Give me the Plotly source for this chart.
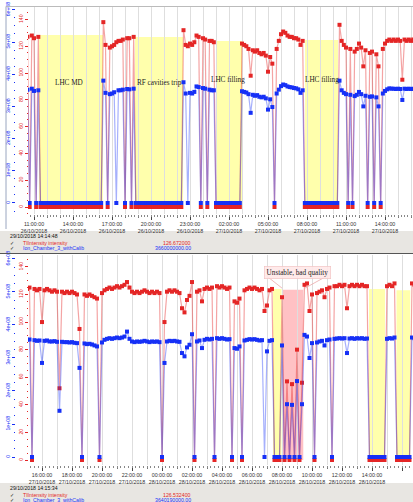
import pandas as pd
import plotly.graph_objects as go

W, H = 413, 502

# ---------------- data: top panel (26/10 10:30 -> 27/10 16:10, every 10 min)
top_times = pd.date_range("2018-10-26 10:30", "2018-10-27 16:10", freq="10min")
top_ti = [
    127, 0, 128,
    126, 0, 127, 0, 0, 0,          # 11h
    0, 0, 0, 0, 0, 0,              # 12h
    0, 0, 0, 0, 0, 0,              # 13h
    0, 0, 0, 0, 0, 0,              # 14h
    0, 0, 0, 0, 0, 0,              # 15h
    0, 0, 138, 121, 0, 119,        # 16h
    120, 121, 123, 124, 124, 125,  # 17h
    0, 126, 126, 0, 127, 0,        # 18h
    0, 0, 0, 0, 0, 0,              # 19h
    0, 0, 0, 0, 0, 0,              # 20h
    0, 0, 0, 0, 0, 0,              # 21h
    0, 0, 0, 132, 121, 120,        # 22h
    122, 121, 123, 128, 127, 0,    # 23h
    126, 125, 0, 124, 124, 123,    # 00h
    0, 0, 0, 0, 0, 0,              # 01h
    0, 0, 0, 0, 0, 0,              # 02h
    122, 121, 120, 118, 98, 117,   # 03h
    116, 117, 115, 114, 115, 113,  # 04h
    101, 112, 107, 0, 118, 124,    # 05h
    129, 131, 130, 128, 127, 127,  # 06h
    126, 126, 125, 121, 124, 0,    # 07h
    0, 0, 0, 0, 0, 0,              # 08h
    0, 0, 0, 0, 0, 0,              # 09h
    0, 0, 0, 136, 124, 121,        # 10h
    119, 0, 118, 0, 116, 118,      # 11h
    122, 119, 105, 117, 0, 115,    # 12h
    116, 0, 114, 105, 0, 118,      # 13h
    122, 124, 125, 124, 125, 124,  # 14h
    125, 124, 95, 125, 124, 125,   # 15h
    124, 125,                      # 16h
]
top_ion_1e8 = [
    3.52, 0, 3.55,
    3.48, 0, 3.50, 0, 0, 0,
    0, 0, 0, 0, 0, 0,
    0, 0, 0, 0, 0, 0,
    0, 0, 0, 0, 0, 0,
    0, 0, 0, 0, 0, 0,
    0, 0, 3.80, 3.42, 0, 3.38,
    3.40, 3.44, 0, 3.50, 3.50, 3.52,
    0, 3.54, 3.53, 0, 3.55, 0,
    0, 0, 0, 0, 0, 0,
    0, 0, 0, 0, 0, 0,
    0, 0, 0, 0, 0, 0,
    0, 0, 0, 3.75, 3.40, 0,
    3.42, 3.40, 3.45, 3.62, 3.60, 0,
    3.57, 3.55, 0, 3.52, 3.50, 3.50,
    0, 0, 0, 0, 0, 0,
    0, 0, 0, 0, 0, 0,
    3.47, 3.45, 3.43, 3.38, 2.80, 3.36,
    3.33, 3.35, 3.30, 3.28, 3.30, 3.25,
    2.90, 3.22, 2.98, 0, 3.40, 3.52,
    3.63, 3.68, 3.66, 3.62, 3.60, 3.59,
    3.57, 3.56, 3.53, 3.42, 3.50, 0,
    0, 0, 0, 0, 0, 0,
    0, 0, 0, 0, 0, 0,
    0, 0, 0, 3.80, 3.50, 3.42,
    3.38, 0, 3.36, 0, 3.32, 3.36,
    3.45, 3.38, 3.00, 3.33, 0, 3.30,
    3.31, 0, 3.28, 3.00, 0, 3.40,
    3.48, 3.53, 3.56, 3.55, 3.55, 3.54,
    3.55, 3.54, 3.20, 3.55, 3.54, 3.55,
    3.54, 3.55,
]

# ---------------- data: bottom panel (27/10 15:00 -> 28/10 16:50, every 10 min)
bot_times = pd.date_range("2018-10-27 15:00", "2018-10-28 16:50", freq="10min")
bot_ti = [
    124, 125, 0, 124, 123, 124,    # 15h
    100, 123, 124, 123, 122, 123,  # 16h
    122, 52, 122, 121, 122, 121,   # 17h
    122, 121, 120, 95, 0, 120,     # 18h
    119, 120, 119, 118, 117, 0,    # 19h
    121, 123, 124, 125, 124, 125,  # 20h
    126, 125, 126, 127, 129, 125,  # 21h
    122, 121, 122, 121, 122, 123,  # 22h
    122, 121, 122, 121, 122, 121,  # 23h
    0, 100, 122, 123, 122, 123,    # 00h
    122, 121, 110, 107, 116, 119,  # 01h
    129, 0, 122, 123, 115, 124,    # 02h
    125, 124, 125, 0, 126, 125,    # 03h
    126, 125, 124, 125, 0, 115,    # 04h
    114, 117, 0, 123, 124, 125,    # 05h
    124, 125, 124, 123, 124, 108,  # 06h
    112, 123, 124, 0, 0, 0,        # 07h
    118, 0, 57, 0, 55, 0,          # 08h
    80, 0, 56, 127, 128, 108,      # 09h
    120, 0, 121, 122, 123, 118,    # 10h
    124, 125, 0, 126, 126, 127,    # 11h
    126, 127, 110, 126, 127, 126,  # 12h
    127, 126, 127, 126, 126, 0,    # 13h
    0, 0, 0, 0, 0, 0,              # 14h
    126, 127, 126, 128, 0, 0,      # 15h
    0, 0, 0, 0, 128, 127,          # 16h
]
bot_ion_1e8 = [
    3.55, 3.56, 0, 3.54, 3.52, 3.53,
    2.85, 3.52, 3.53, 3.50, 3.50, 3.51,
    3.49, 1.40, 3.49, 3.48, 3.48, 3.47,
    3.48, 3.46, 3.45, 2.70, 0, 3.44,
    3.42, 3.43, 3.41, 3.38, 3.35, 0,
    3.47, 3.55, 3.58, 3.60, 3.58, 3.60,
    3.62, 3.60, 3.62, 3.65, 3.80, 3.58,
    3.50, 3.48, 3.50, 3.49, 3.50, 3.52,
    3.50, 3.48, 3.50, 3.49, 3.50, 3.48,
    0, 2.85, 3.50, 3.52, 3.51, 3.52,
    3.50, 3.49, 3.15, 3.05, 3.32, 3.40,
    3.72, 0, 3.50, 3.53, 3.30, 3.55,
    3.58, 3.56, 3.58, 0, 3.60, 3.58,
    3.60, 3.58, 3.56, 3.57, 0, 3.30,
    3.28, 3.35, 0, 3.53, 3.55, 3.57,
    3.56, 3.57, 3.55, 3.53, 3.54, 0,
    3.20, 3.52, 3.54, 0, 0, 0,
    3.38, 0, 1.60, 0, 1.58, 0,
    2.30, 0, 1.60, 3.70, 3.65, 3.00,
    3.45, 0, 3.47, 3.50, 3.52, 3.38,
    3.54, 3.56, 0, 3.58, 3.59, 3.60,
    3.59, 3.60, 3.15, 3.59, 3.60, 3.58,
    3.60, 3.59, 3.60, 3.58, 3.59, 0,
    0, 0, 0, 0, 0, 0,
    3.58, 3.60, 3.59, 3.62, 0, 0,
    0, 0, 0, 0, 3.62, 3.60,
]
ION_UNIT = 1e8

# shaded periods: (start, end, top value on TI axis)
top_yellow = [
    ("2018-10-26 11:23", "2018-10-26 16:18", 128.4),
    ("2018-10-26 18:46", "2018-10-26 22:28", 126.9),
    ("2018-10-27 01:00", "2018-10-27 03:00", 123.9),
    ("2018-10-27 07:51", "2018-10-27 10:23", 124.6),
]
top_labels = [
    ("2018-10-26 13:41", 92.5, "LHC MD"),
    ("2018-10-26 20:41", 92.5, "RF cavities trip"),
    ("2018-10-27 01:55", 94.8, "LHC filling"),
    ("2018-10-27 09:09", 94.8, "LHC filling"),
]
bot_yellow = [
    ("2018-10-28 07:24", "2018-10-28 07:58", 124),
    ("2018-10-28 13:48", "2018-10-28 14:52", 124),
    ("2018-10-28 15:38", "2018-10-28 16:33", 123),
]
bot_pink = [("2018-10-28 08:02", "2018-10-28 09:25", 123.5)]
bot_label = ("2018-10-28 09:00", 136.2, "Unstable, bad quality")

ti_ticks = [0, 20, 40, 60, 80, 100, 120, 140]
ion_tickvals = [0, 1e8, 2e8, 3e8, 4e8, 5e8, 6e8]
ion_ticktext = ["0", "1e+08", "2e+08", "3e+08", "4e+08", "5e+08", "6e+08"]

legend_top = ("29/10/2018 14:14:48", "126.672000", "3660000000.00")
legend_bot = ("29/10/2018 14:15:34", "126.532400", "3640190000.00")
series_names = ("TIIntensity intensity", "Ion_Chamber_3_withCalib")

assert len(top_ti) == len(top_times) == len(top_ion_1e8)
assert len(bot_ti) == len(bot_times) == len(bot_ion_1e8)

RED = "rgb(228,38,38)"
RED_L = "rgba(228,38,38,0.42)"
BLUE = "rgb(22,48,246)"
BLUE_L = "rgba(22,48,246,0.38)"
YELLOW = "rgb(255,255,172)"
PINK = "rgba(255,160,165,0.65)"
GRID = "rgba(222,222,222,1)"


def px(x):
    return x / W


def py(y):
    return 1 - y / H


fig = go.Figure()


def add_series(times, ti, ion, xa, ya_ti, ya_ion):
    fig.add_trace(go.Scatter(
        x=times, y=ti, xaxis=xa, yaxis=ya_ti, mode="lines+markers",
        line=dict(color=RED_L, width=1.2),
        marker=dict(color=RED, size=4, symbol="square", line=dict(width=0)),
        showlegend=False, hoverinfo="skip"))
    fig.add_trace(go.Scatter(
        x=times, y=[v * ION_UNIT for v in ion], xaxis=xa, yaxis=ya_ion,
        mode="lines+markers",
        line=dict(color=BLUE_L, width=1.2),
        marker=dict(color=BLUE, size=4, symbol="square", line=dict(width=0)),
        showlegend=False, hoverinfo="skip"))


add_series(top_times, top_ti, top_ion_1e8, "x", "y", "y2")
add_series(bot_times, bot_ti, bot_ion_1e8, "x2", "y3", "y4")
# carriers for the fine-tick overlay axes
fig.add_trace(go.Scatter(x=[], y=[], xaxis="x3", yaxis="y", showlegend=False))
fig.add_trace(go.Scatter(x=[], y=[], xaxis="x4", yaxis="y3", showlegend=False))

shapes = []
for s, e, top in top_yellow:
    shapes.append(dict(type="rect", xref="x", yref="y", x0=s, x1=e, y0=0, y1=top,
                       fillcolor=YELLOW, line=dict(width=0), layer="below"))
for s, e, top in bot_yellow:
    shapes.append(dict(type="rect", xref="x2", yref="y3", x0=s, x1=e, y0=0, y1=top,
                       fillcolor=YELLOW, line=dict(width=0), layer="below"))
for s, e, top in bot_pink:
    shapes.append(dict(type="rect", xref="x2", yref="y3", x0=s, x1=e, y0=0, y1=top,
                       fillcolor=PINK, line=dict(width=0), layer="below"))

# leader lines of the "Unstable" label
shapes.append(dict(type="line", xref="x2", yref="y3", x0="2018-10-28 07:04", y0=132.6,
                   x1="2018-10-28 08:00", y1=124.6, line=dict(color="rgba(235,170,170,1)", width=0.8)))
shapes.append(dict(type="line", xref="x2", yref="y3", x0="2018-10-28 10:52", y0=132.6,
                   x1="2018-10-28 09:32", y1=124.6, line=dict(color="rgba(235,170,170,1)", width=0.8)))

# legend panels / frame lines
shapes.append(dict(type="rect", xref="paper", yref="paper", x0=0, x1=1, y0=py(253), y1=py(231),
                   fillcolor="rgb(232,230,226)", line=dict(width=0), layer="below"))
shapes.append(dict(type="rect", xref="paper", yref="paper", x0=0, x1=1, y0=0, y1=py(483),
                   fillcolor="rgb(232,230,226)", line=dict(width=0), layer="below"))
shapes.append(dict(type="line", xref="paper", yref="paper", x0=0, x1=1, y0=py(253.5), y1=py(253.5),
                   line=dict(color="#555", width=1)))
shapes.append(dict(type="line", xref="paper", yref="paper", x0=px(6), x1=1, y0=py(6.5), y1=py(6.5),
                   line=dict(color="#bbb", width=1)))
shapes.append(dict(type="line", xref="paper", yref="paper", x0=px(6), x1=px(6), y0=py(229), y1=py(6.5),
                   line=dict(color="#9aa6c0", width=1)))

annotations = []
for t, v, txt in top_labels:
    annotations.append(dict(x=t, y=v, xref="x", yref="y", text=txt, showarrow=False,
                            font=dict(family="Liberation Serif", size=7.2, color="#222")))
annotations.append(dict(x=bot_label[0], y=bot_label[1], xref="x2", yref="y3", text=bot_label[2],
                        showarrow=False, bgcolor="rgba(255,232,232,0.9)",
                        bordercolor="rgba(240,190,190,1)", borderwidth=0.6, borderpad=2,
                        font=dict(family="Liberation Serif", size=7.2, color="#222")))


def legend(lg, y_date, y_r1, y_r2):
    f = "Liberation Sans"
    annotations.append(dict(x=px(8), y=py(y_date), xref="paper", yref="paper", text=lg[0],
                            showarrow=False, xanchor="left", yanchor="middle",
                            font=dict(family=f, size=5.2, color="#111")))
    for yy in (y_r1, y_r2):
        annotations.append(dict(x=px(8), y=py(yy), xref="paper", yref="paper", text="✓",
                                showarrow=False, xanchor="left", yanchor="middle",
                                font=dict(family="DejaVu Sans", size=5, color="#111")))
    annotations.append(dict(x=px(21), y=py(y_r1), xref="paper", yref="paper", text=series_names[0],
                            showarrow=False, xanchor="left", yanchor="middle",
                            font=dict(family=f, size=5.2, color=RED)))
    annotations.append(dict(x=px(21), y=py(y_r2), xref="paper", yref="paper", text=series_names[1],
                            showarrow=False, xanchor="left", yanchor="middle",
                            font=dict(family=f, size=5.2, color=BLUE)))
    annotations.append(dict(x=px(193), y=py(y_r1), xref="paper", yref="paper", text=lg[1],
                            showarrow=False, xanchor="right", yanchor="middle",
                            font=dict(family=f, size=5.2, color=RED)))
    annotations.append(dict(x=px(193), y=py(y_r2), xref="paper", yref="paper", text=lg[2],
                            showarrow=False, xanchor="right", yanchor="middle",
                            font=dict(family=f, size=5.2, color=BLUE)))


legend(legend_top, 235.5, 242.5, 247.8)
legend(legend_bot, 488, 495, 500)

XDOM = [px(28), 1]
TOP_DOM = [py(214), py(7)]
BOT_DOM = [py(465), py(255)]
tickfont = dict(family="Liberation Sans", size=5.3, color="#333")


def xaxis(rng, dt_h, tick0, anchor):
    return dict(domain=XDOM, anchor=anchor, range=rng, type="date", automargin=False,
                tick0=tick0, dtick=dt_h * 3600000, tickformat="%H:%M:%S<br>%d/%m/%Y",
                tickangle=0, ticks="outside", ticklen=5, tickcolor="#444", tickwidth=1,
                tickfont=tickfont, showgrid=True, gridcolor=GRID, gridwidth=1,
                minor=dict(dtick=3600000, tick0=tick0, ticks="outside", ticklen=3,
                           tickcolor="#777", showgrid=True, gridcolor=GRID),
                showline=False, zeroline=False)


def fine_axis(rng, overlay, anchor):
    return dict(overlaying=overlay, anchor=anchor, range=rng, type="date", automargin=False,
                dtick=900000, tick0="2018-10-26 11:00", ticks="outside", ticklen=2,
                tickcolor="#888", showticklabels=False, showgrid=False, zeroline=False,
                showline=False)


def ti_axis(dom, rng):
    return dict(domain=dom, anchor="free", position=px(28), range=rng, automargin=False,
                tickvals=ti_ticks, tickangle=-90, ticks="outside", ticklen=3,
                tickcolor=RED, tickfont=dict(family="Liberation Sans", size=5.2, color=RED),
                minor=dict(tickmode="linear", tick0=0, dtick=5, ticks="outside",
                           ticklen=1.5, tickcolor=RED),
                showgrid=False, zeroline=False, showline=False)


def ion_axis(overlay, rng):
    return dict(overlaying=overlay, anchor="free", position=px(15), range=rng, automargin=False,
                tickvals=ion_tickvals, ticktext=ion_ticktext, tickangle=-90,
                ticks="outside", ticklen=3, tickcolor=BLUE,
                tickfont=dict(family="Liberation Sans", size=5.2, color=BLUE),
                minor=dict(tickmode="linear", tick0=0, dtick=2.5e7, ticks="outside",
                           ticklen=1.5, tickcolor=BLUE),
                showgrid=False, zeroline=False, showline=False, side="left")


top_rng = ["2018-10-26 10:32:18", "2018-10-27 16:09:14"]
bot_rng = ["2018-10-27 15:04:00", "2018-10-28 16:44:00"]

fig.update_layout(
    width=W, height=H, autosize=False,
    margin=dict(l=0, r=0, t=0, b=0, pad=0, autoexpand=False),
    paper_bgcolor="white", plot_bgcolor="white",
    showlegend=False, hovermode=False,
    xaxis=xaxis(top_rng, 3, "2018-10-26 11:00", "y"),
    xaxis2=xaxis(bot_rng, 2, "2018-10-27 16:00", "y3"),
    xaxis3=fine_axis(top_rng, "x", "y"),
    xaxis4=fine_axis(bot_rng, "x2", "y3"),
    yaxis=ti_axis(TOP_DOM, [-5.22, 149.3]),
    yaxis2=ion_axis("y", [-0.342e8, 6.087e8]),
    yaxis3=ti_axis(BOT_DOM, [-3.62, 148.6]),
    yaxis4=ion_axis("y3", [-0.242e8, 6.12e8]),
    shapes=shapes,
    annotations=annotations,
)

fig.write_html(
    "out.html",
    config={"displayModeBar": False, "staticPlot": True},
    post_script="document.body.style.margin='0px';document.body.style.overflow='hidden';",
)
